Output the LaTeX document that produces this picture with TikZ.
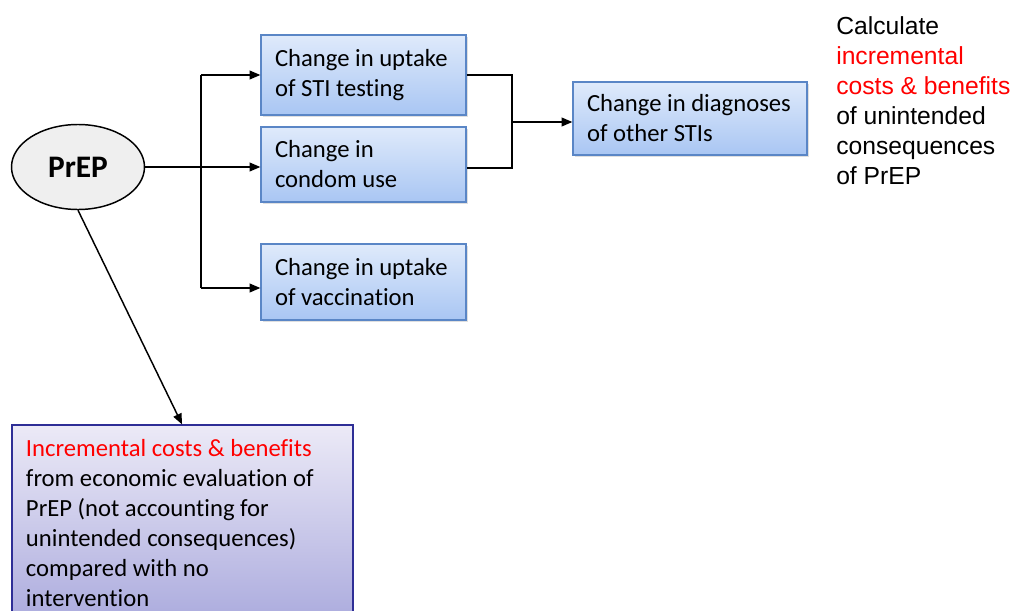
\documentclass[tikz,border=0pt]{standalone}
\usepackage{fontspec}
\setmainfont{Carlito}[Ligatures=NoCommon]
\newfontfamily\arialf{Liberation Sans}
\usetikzlibrary{arrows.meta,shadows,calc,shapes.geometric}
\definecolor{bluetop}{HTML}{DFEAFB}
\definecolor{bluebot}{HTML}{A9C6F3}
\definecolor{blueline}{HTML}{5A86C6}
\definecolor{purtop}{HTML}{ECEAF7}
\definecolor{purbot}{HTML}{A2A2DA}
\definecolor{purline}{HTML}{2E2E96}
\definecolor{redtxt}{HTML}{FF0000}
\definecolor{ellfill}{HTML}{EFEFEF}
\tikzset{
  bluebox/.style={draw=blueline, line width=0.9pt, top color=bluetop, bottom color=bluebot,
    drop shadow={opacity=0.25, shadow xshift=1.5pt, shadow yshift=-1.5pt},
    minimum width=153.75pt, inner xsep=10.5pt, inner ysep=0pt, align=flush left,
    text width=132.75pt, font=\fontsize{18.5}{22.5}\selectfont},
  conn/.style={line width=1.1pt, draw=black},
  arr/.style={conn, -{Triangle[length=8pt,width=6.5pt]}}
}
\begin{document}
\begin{tikzpicture}[x=0.75pt,y=-0.75pt]
\clip (0,0) rectangle (1013,610);
\fill[white] (0,0) rectangle (1013,610);

\node[bluebox, minimum height=60pt] (b1) at (363.5,75) {Change in uptake\\of STI testing};
\node[bluebox, minimum height=56.25pt] (b2) at (363.5,164.5) {Change in\\condom use};
\node[bluebox, minimum height=57pt] (b3) at (363.5,282) {Change in uptake\\of vaccination};
\node[bluebox, minimum height=54.75pt, minimum width=175.5pt, text width=154.5pt] (b4) at (690,118.5) {Change in diagnoses\\of other STIs};

\node[ellipse, draw=black, line width=1.1pt, fill=ellfill, minimum width=99.75pt, minimum height=63.75pt, inner sep=0pt,
  font=\fontsize{23.5}{28}\selectfont\bfseries] (prep) at (78,167) {PrEP};

\node[draw=purline, line width=0.9pt, top color=purtop, bottom color=purbot,
  minimum width=255.75pt, minimum height=168.75pt, inner xsep=10.5pt, inner ysep=0pt,
  text width=234.75pt, align=flush left, font=\fontsize{18.5}{22.5}\selectfont] (bot) at (182.5,537.5)
  {\textcolor{redtxt}{Incremental costs \& benefits}\\from economic evaluation of\\PrEP (not accounting for\\unintended consequences)\\compared with no\\intervention\\~};

\node[anchor=north west, inner sep=0pt, align=flush left, font=\arialf\fontsize{18.5}{22.5}\selectfont] (calc) at (836,16)
  {Calculate\\\textcolor{redtxt}{incremental}\\\textcolor{redtxt}{costs \& benefits}\\of unintended\\consequences\\of PrEP};

\coordinate (vtop) at (201,75);
\coordinate (vbot) at (201,288);
\coordinate (j) at (512,122);

\draw[arr] (prep.east) -- (prep.east -| b2.west);
\draw[conn] (vtop) -- (vbot);
\draw[arr] (vtop) -- (vtop -| b1.west);
\draw[arr] (vbot) -- (vbot -| b3.west);
\draw[conn] (b1.east) -| (j) |- ([yshift=-2.6pt]b2.east);
\draw[arr] (j) -- (j -| b4.west);
\draw[arr] (prep.south) -- ([xshift=128pt]bot.north west);
\end{tikzpicture}
\end{document}
